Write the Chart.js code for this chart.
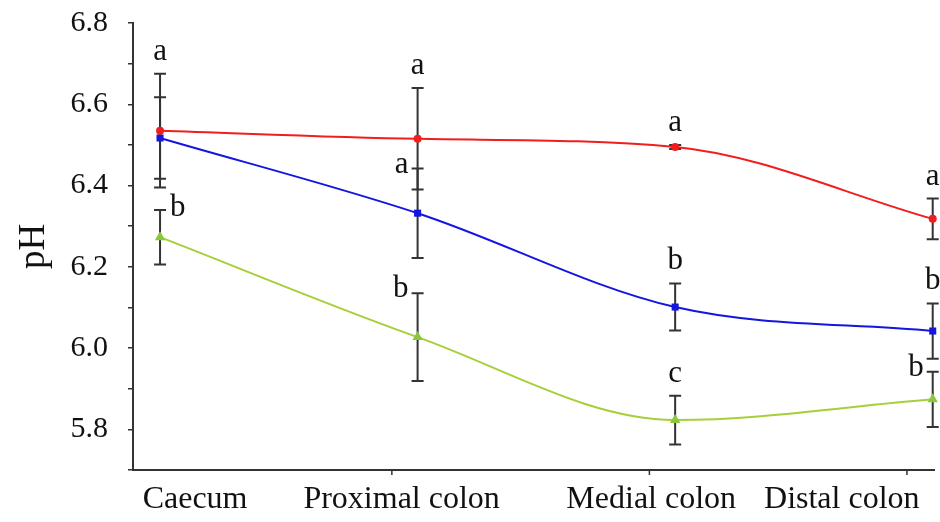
<!DOCTYPE html>
<html>
<head>
<meta charset="utf-8">
<script src="https://cdn.jsdelivr.net/npm/chart.js@4.4.1/dist/chart.umd.min.js"></script>
<style>
  html, body { margin: 0; padding: 0; background: #fff; }
  #wrap { width: 940px; height: 522px; }
</style>
</head>
<body>
<div id="wrap"><canvas id="phChart"></canvas></div>
<script>
// Gut segments along the x axis
const segments = ['Caecum', 'Proximal colon', 'Medial colon', 'Distal colon'];

// Mean pH per segment, one array per group
const redMeans = [6.535, 6.515, 6.495, 6.318];
const blueMeans = [6.517, 6.332, 6.101, 6.042];
const greenMeans = [6.273, 6.027, 5.823, 5.874];

// Error bar half-lengths
const redErr = [0.14, 0.125, 0.005, 0.05];
const blueErr = [0.10, 0.11, 0.058, 0.068];
const greenErr = [0.067, 0.108, 0.06, 0.068];

// Significance letters
const redLetters = ['a', 'a', 'a', 'a'];
const blueLetters = ['', 'a', 'b', 'b'];
const greenLetters = ['b', 'b', 'c', 'b'];

// Labelled y ticks (minor ticks every 0.1 are left blank)
const yTickLabels = ['5.8', '6.0', '6.2', '6.4', '6.6', '6.8'];

// Layout / style bits
const serif = "'Liberation Serif', 'Times New Roman', serif";
const xLabelAt = [0.136, 0.938, 1.907, 2.647];
const redPlace = ['top', 'top', 'top', 'top'];
const bluePlace = ['', 'left', 'top', 'top'];
const greenPlace = ['right', 'left', 'top', 'left'];

const toPoints = arr => arr.map((v, i) => ({ x: i, y: v }));

// Draws error bars under the lines and the letters on top
const errorBars = {
    id: 'errorBars',
    beforeDatasetsDraw(chart) {
        const { ctx, scales: { x, y } } = chart;
        ctx.save();
        ctx.strokeStyle = '#333';
        ctx.lineWidth = 2;
        chart.data.datasets.forEach(ds => {
            ds.data.forEach((p, i) => {
                const px = x.getPixelForValue(p.x);
                const top = y.getPixelForValue(p.y + ds.err[i]);
                const bot = y.getPixelForValue(p.y - ds.err[i]);
                ctx.beginPath();
                ctx.moveTo(px, top); ctx.lineTo(px, bot);
                ctx.moveTo(px - 6, top); ctx.lineTo(px + 6, top);
                ctx.moveTo(px - 6, bot); ctx.lineTo(px + 6, bot);
                ctx.stroke();
            });
        });
        ctx.restore();
    },
    afterDatasetsDraw(chart) {
        const { ctx, scales: { x, y } } = chart;
        ctx.save();
        ctx.fillStyle = '#111';
        ctx.font = '31px ' + serif;
        chart.data.datasets.forEach(ds => {
            ds.data.forEach((p, i) => {
                const txt = ds.letters[i];
                if (!txt) return;
                const px = x.getPixelForValue(p.x);
                const top = y.getPixelForValue(p.y + ds.err[i]);
                const where = ds.place[i];
                if (where === 'top') {
                    ctx.textAlign = 'center';
                    ctx.textBaseline = 'alphabetic';
                    ctx.fillText(txt, px, top - 14);
                } else if (where === 'left') {
                    ctx.textAlign = 'right';
                    ctx.textBaseline = 'middle';
                    ctx.fillText(txt, px - 9, top - 4);
                } else {
                    ctx.textAlign = 'left';
                    ctx.textBaseline = 'middle';
                    ctx.fillText(txt, px + 10, top - 2);
                }
            });
        });
        // small tick marks on the x axis
        ctx.strokeStyle = '#333';
        ctx.lineWidth = 1.5;
        for (let i = 1; i < segments.length; i++) {
            const tx = x.getPixelForValue(i - 0.1);
            ctx.beginPath();
            ctx.moveTo(tx, x.top);
            ctx.lineTo(tx, x.top + 5);
            ctx.stroke();
        }
        ctx.restore();
    }
};

const ctx = document.getElementById('phChart').getContext('2d');
new Chart(ctx, {
    type: 'line',
    data: {
        datasets: [
            {
                data: toPoints(redMeans), err: redErr, letters: redLetters, place: redPlace,
                borderColor: '#f01e1e', backgroundColor: '#f01e1e',
                pointStyle: 'circle', pointRadius: 4
            },
            {
                data: toPoints(blueMeans), err: blueErr, letters: blueLetters, place: bluePlace,
                borderColor: '#1515e0', backgroundColor: '#1515e0',
                pointStyle: 'rect', pointRadius: 5
            },
            {
                data: toPoints(greenMeans), err: greenErr, letters: greenLetters, place: greenPlace,
                borderColor: '#a6cf3a', backgroundColor: '#8cc63f',
                pointStyle: 'triangle', pointRadius: 6
            }
        ]
    },
    options: {
        responsive: true,
        maintainAspectRatio: false,
        animation: false,
        layout: { padding: { top: 23, right: 5, left: 0, bottom: 0 } },
        elements: {
            line: { borderWidth: 2, tension: 0.4, cubicInterpolationMode: 'monotone' },
            point: { borderWidth: 0 }
        },
        datasets: { line: { clip: false } },
        plugins: {
            legend: { display: false },
            tooltip: { enabled: false }
        },
        scales: {
            x: {
                type: 'linear',
                min: -0.105,
                max: 3.005,
                afterBuildTicks: scale => {
                    scale.ticks = xLabelAt.map(v => ({ value: v }));
                },
                afterFit: scale => {
                    scale.height = 52;
                    scale.paddingLeft = 0;
                    scale.paddingRight = 0;
                },
                grid: { display: false, drawTicks: false },
                border: { display: true, color: '#333', width: 2 },
                ticks: {
                    autoSkip: false,
                    maxRotation: 0,
                    padding: 10,
                    color: '#111',
                    font: { family: serif, size: 32 },
                    callback: (value, index) => segments[index]
                }
            },
            y: {
                min: 5.7,
                max: 6.8,
                afterFit: scale => {
                    scale.width = 133;
                    scale.paddingTop = 0;
                    scale.paddingBottom = 0;
                },
                grid: {
                    drawOnChartArea: false,
                    drawTicks: true,
                    tickLength: 5,
                    color: '#333',
                    lineWidth: 1.5
                },
                border: { display: true, color: '#333', width: 2 },
                ticks: {
                    stepSize: 0.1,
                    autoSkip: false,
                    padding: 20,
                    color: '#111',
                    font: { family: serif, size: 30 },
                    callback: value => {
                        const label = Number(value).toFixed(1);
                        return yTickLabels.includes(label) ? label : '';
                    }
                },
                title: {
                    display: true,
                    text: 'pH',
                    color: '#111',
                    font: { family: serif, size: 37 },
                    padding: { top: 12, bottom: 0 }
                }
            }
        }
    },
    plugins: [errorBars]
});
</script>
</body>
</html>
